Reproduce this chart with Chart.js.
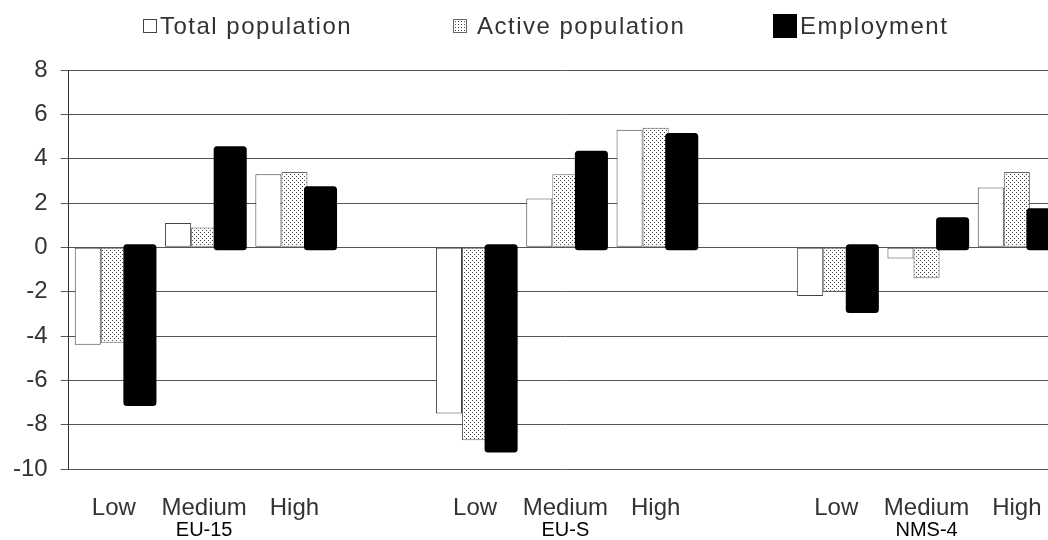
<!DOCTYPE html>
<html>
<head>
<meta charset="utf-8">
<script src="https://cdn.jsdelivr.net/npm/chart.js@4"></script>
<style>
 html,body{margin:0;padding:0;background:#fff;overflow:hidden}
 #wrap{position:relative;width:1048px;height:540px;overflow:hidden}
 #chart{position:absolute;left:0;top:0}
 .leg{position:absolute;top:14px;height:24px;display:flex;align-items:center;font:24px "Liberation Sans",Arial,sans-serif;letter-spacing:1.5px;color:#333}
 .leg i{display:inline-block;box-sizing:border-box}
 .tot{width:14px;height:14px;border:1px solid #444;background:#fff;margin-right:3px}
 .act{width:14px;height:14px;border:1px solid #666;background:#fff radial-gradient(#444 0.7px,transparent 0.9px) 0 0/3px 3px;margin-right:10px}
 .emp{width:24px;height:24px;background:#000;margin-right:3px}
</style>
</head>
<body>
<div id="wrap">
 <canvas id="chart" width="1077" height="547"></canvas>
 <div class="leg" style="left:143px"><i class="tot"></i>Total population</div>
 <div class="leg" style="left:453px"><i class="act"></i>Active population</div>
 <div class="leg" style="left:773px"><i class="emp"></i>Employment</div>
</div>
<script>
// categories (blank slots separate the regions)
const levels=["Low","Medium","High","","Low","Medium","High","","Low","Medium","High"];
const regions=["","EU-15","","","","EU-S","","","","NMS-4",""];

// EU-15 | gap | EU-S | gap | NMS-4
const totalPop=[-4.4,1.1,3.3,null,-7.5,2.2,5.3,null,-2.2,-0.5,2.7];
const activePop=[-4.3,0.9,3.4,null,-8.7,3.3,5.4,null,-2.0,-1.4,3.4];
const employment=[-7.0,4.4,2.6,null,-9.1,4.2,5.0,null,-2.8,1.2,1.6];

const yTicks={min:-10,max:8,step:2};

const font="'Liberation Sans', Arial, sans-serif";

function dots(){
 let c=document.createElement("canvas");
 c.width=4;c.height=4;
 let g=c.getContext("2d");
 g.fillStyle="#fff";g.fillRect(0,0,4,4);
 g.fillStyle="#444";g.fillRect(0,0,1,1);g.fillRect(2,2,1,1);
 return g.createPattern(c,"repeat");
}

// employment bars have a fat rounded outline that sticks out of the bar
const fatOutline={
 id:"fatOutline",
 afterDatasetsDraw(chart){
  let meta=chart.getDatasetMeta(2);
  let ctx=chart.ctx;
  ctx.save();
  ctx.lineWidth=7;
  ctx.lineJoin="round";
  ctx.strokeStyle="#000";
  ctx.fillStyle="#000";
  meta.data.forEach((el,i)=>{
   if(employment[i]==null) return;
   let p=el.getProps(["x","y","base","width"],true);
   let top=Math.min(p.y,p.base),h=Math.abs(p.base-p.y);
   ctx.fillRect(p.x-p.width/2,top,p.width,h);
   ctx.strokeRect(p.x-p.width/2,top,p.width,h);
  });
  ctx.restore();
 }
};

// region names under the middle level label
const regionLabels={
 id:"regionLabels",
 afterDraw(chart){
  let ctx=chart.ctx,x=chart.scales.x;
  ctx.save();
  ctx.font="20px "+font;
  ctx.fillStyle="#000";
  ctx.textAlign="center";
  ctx.textBaseline="middle";
  regions.forEach((r,i)=>{
   if(r) ctx.fillText(r,x.getPixelForValue(i),chart.chartArea.bottom+61);
  });
  ctx.restore();
 }
};

new Chart(document.getElementById("chart"),{
 type:"bar",
 data:{
  labels:levels,
  datasets:[
   {label:"Total population",data:totalPop,backgroundColor:"#fff",borderColor:"#444",borderWidth:1,borderSkipped:false},
   {label:"Active population",data:activePop,backgroundColor:dots(),borderColor:"#666",borderWidth:1,borderSkipped:false},
   {label:"Employment",data:employment,backgroundColor:"#000",borderWidth:0}
  ]
 },
 options:{
  responsive:false,
  animation:false,
  layout:{padding:{left:0,right:15,top:70,bottom:0}},
  datasets:{bar:{categoryPercentage:0.866,barPercentage:1}},
  plugins:{legend:{display:false},tooltip:{enabled:false}},
  scales:{
   x:{
    grid:{display:false,drawTicks:false},
    border:{display:false},
    ticks:{color:"#333",font:{family:font,size:24,lineHeight:3.25},padding:0,maxRotation:0,autoSkip:false}
   },
   y:{
    min:yTicks.min,max:yTicks.max,
    ticks:{stepSize:yTicks.step,color:"#333",font:{family:font,size:24},padding:13},
    grid:{color:"#555",lineWidth:1,tickLength:8},
    border:{color:"#333",width:1}
   }
  }
 },
 plugins:[fatOutline,regionLabels]
});
</script>
</body>
</html>
